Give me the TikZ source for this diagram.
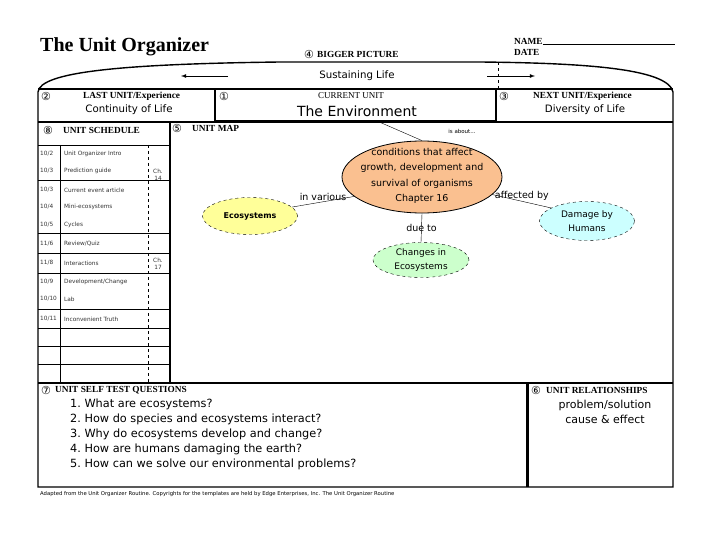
\documentclass[tikz,border=0pt]{standalone}
\usepackage{fontspec}
\setmainfont{Liberation Serif}
\newfontfamily\handfont{DejaVu Sans}
\usetikzlibrary{shapes.geometric}

\definecolor{corefill}{RGB}{250,192,144}
\definecolor{ecofill}{RGB}{255,255,153}
\definecolor{chgfill}{RGB}{204,255,204}
\definecolor{dmgfill}{RGB}{204,255,255}

\tikzset{
  hdr/.style={font=\bfseries\fontsize{9.3}{10}\selectfont, inner sep=0pt, anchor=west},
  hand/.style={font=\handfont\fontsize{10.2}{12}\selectfont, inner sep=0pt},
  ask/.style={font=\handfont\fontsize{11.3}{12}\selectfont, inner sep=0pt, anchor=west},
  sched/.style={font=\handfont\fontsize{5.8}{7}\selectfont, inner sep=0pt, anchor=west, black!80},
  bubble/.style={ellipse, draw, dashed, inner sep=0pt, align=center, font=\handfont\fontsize{9}{14}\selectfont},
  link/.style={font=\handfont\fontsize{9.5}{10}\selectfont, inner sep=0.5pt},
  frame/.style={line width=1.4pt},
  numtag/.style={font=\handfont\fontsize{11}{11}\selectfont, inner sep=0pt, anchor=west},
}

\begin{document}
\begin{tikzpicture}[x=1pt, y=-1pt]
\useasboundingbox (0,0) rectangle (720,540);
% title, name and date
\node[anchor=west, inner sep=0pt, font=\bfseries\fontsize{20}{20}\selectfont] (title) at (40,47) {The Unit Organizer};
\node[hdr] (name) at (514,41) {NAME};
\coordinate (nameend) at (675,45);
\draw (name.south east) -- (nameend |- name.south east);
\node[hdr] (date) at (514,52) {DATE};
\node[numtag] (n4) at (304,54) {④};
\node[hdr] (bigger) at (317,54) {BIGGER PICTURE};
% outer frame with curved top
\draw[frame] (38,92) .. controls (40,72) and (120,64) .. (280,62) -- (480,62)
  .. controls (580,63) and (668,68) .. (673,92) -- (673,487) -- (38,487) -- cycle;
\draw[frame] (38,89) -- (673,89);
\draw[frame] (38,122) -- (673,122);
% bigger picture band
\node[hand] (big) at (357,76) {Sustaining Life};
\coordinate (lefttail) at (228,76);
\coordinate (lefthead) at (181,76);
\coordinate (righttail) at (487,76);
\coordinate (righthead) at (535,76);
\draw[thick, -latex] (lefttail) -- (lefthead);
\draw[thick, -latex] (righttail) -- (righthead);
\draw[dashed] (498,62) -- (498,89);
% last, current and next unit
\node[draw, line width=2.5pt, minimum width=281, minimum height=32, inner sep=0pt] (cur) at (355.5,105) {};
\node[numtag] (n2) at (41,96) {②};
\node[hdr] (lastlbl) at (83,96) {LAST UNIT/Experience};
\node[hand] (last) at (129,110) {Continuity of Life};
\node[numtag] (n1) at (219,96) {①};
\node[font=\fontsize{9}{9}\selectfont, inner sep=0pt] (curlbl) at (351,96) {CURRENT UNIT};
\node[hand, font=\handfont\fontsize{14}{14}\selectfont] (curtxt) at (357,111) {The Environment};
\node[numtag] (n3) at (499,96) {③};
\node[hdr] (nextlbl) at (533,96) {NEXT UNIT/Experience};
\node[hand] (next) at (585,110) {Diversity of Life};
% unit schedule
\draw[frame] (170,122) -- (170,383);
\draw (38,145) -- (170,145);
\node[numtag] (n8) at (43,130) {⑧};
\node[hdr] (schedlbl) at (63,130) {UNIT SCHEDULE};
\foreach \y in {180,233,253,273,309,328,346,364}
  \draw (38,\y) -- (170,\y);
\draw (60,145) -- (60,383);
\draw[dashed] (148,145) -- (148,383);
\foreach \d/\t/\y [count=\i] in {{10/2}/Unit Organizer Intro/154, {10/3}/Prediction guide/171,
    {10/3}/Current event article/190, {10/4}/Mini-ecosystems/207, {10/5}/Cycles/225,
    {11/6}/{Review/Quiz}/244, {11/8}/Interactions/263, {10/9}/{Development/Change}/282,
    {10/10}/Lab/299, {10/11}/Inconvenient Truth/319} {
  \node[sched] (d\i) at (40,\y) {\d};
  \node[sched] (t\i) at (64,\y) {\t};
}
\node[sched, anchor=center, align=center] (ch14) at (158,175) {Ch.\\14};
\node[sched, anchor=center, align=center] (ch17) at (158,264) {Ch.\\17};
% unit map
\node[numtag] (n5) at (172,128) {⑤};
\node[hdr] (maplbl) at (192,128) {UNIT MAP};
\node[ellipse, draw, fill=corefill, line width=0.8pt, minimum width=160, minimum height=72] (core) at (422,177) {};
\node[hand, align=center, font=\handfont\fontsize{9.5}{15.3}\selectfont] (coretxt) at (422,176)
  {conditions that affect\\growth, development and\\survival of organisms\\Chapter 16};
\node[bubble, fill=ecofill, minimum width=95, minimum height=37, font=\handfont\bfseries\fontsize{8}{10}\selectfont] (eco) at (250,216) {Ecosystems};
\node[bubble, fill=chgfill, minimum width=96, minimum height=35] (chg) at (421,260) {Changes in\\Ecosystems};
\node[bubble, fill=dmgfill, minimum width=95, minimum height=39] (dmg) at (587,221) {Damage by\\Humans};
\coordinate (curfoot) at (377,121);
\draw (curfoot) -- (core.north);
\node[font=\handfont\fontsize{5.5}{6}\selectfont, inner sep=0pt] (about) at (462,131) {is about...};
\draw (core.196) -- node[link, above] (invar) {in various} (eco.12);
\draw (core.south) -- node[link, inner sep=0pt] (dueto) {due to} (chg.north);
\draw (core.-14) -- node[link, above] (affby) {affected by} (dmg.160);
% self test questions and relationships
\draw[frame] (38,383) -- (673,383);
\draw[line width=3pt] (527,383) -- (527,487);
\node[numtag] (n7) at (41,390) {⑦};
\node[hdr] (testlbl) at (55,390) {UNIT SELF TEST QUESTIONS};
\foreach \q [count=\i] in {What are ecosystems?, How do species and ecosystems interact?,
    Why do ecosystems develop and change?, How are humans damaging the earth?,
    How can we solve our environmental problems?}
  \node[ask] (q\i) at (70,390+\i*14.8) {\i.\ \q};
\node[numtag] (n6) at (531,390) {⑥};
\node[hdr] (rellbl) at (546,390) {UNIT RELATIONSHIPS};
\node[hand, font=\handfont\fontsize{11}{12}\selectfont] (rel1) at (605,405) {problem/solution};
\node[hand, font=\handfont\fontsize{11}{12}\selectfont] (rel2) at (605,419) {cause \& effect};
% footer
\node[anchor=west, inner sep=0pt, font=\handfont\fontsize{5.3}{6}\selectfont] (foot) at (40,494)
  {Adapted from the Unit Organizer Routine. Copyrights for the templates are held by Edge Enterprises, Inc. The Unit Organizer Routine};
\end{tikzpicture}
\end{document}
